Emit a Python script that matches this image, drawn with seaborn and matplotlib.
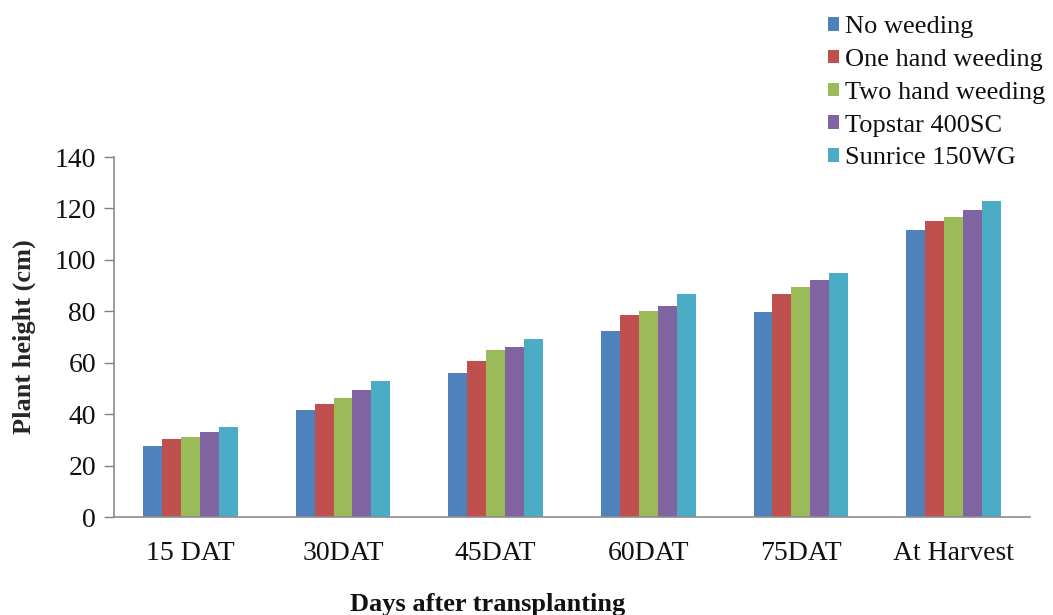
import matplotlib
matplotlib.use("Agg")
import matplotlib.pyplot as plt
import seaborn as sns
import pandas as pd

stages = ["15 DAT", "30DAT", "45DAT", "60DAT", "75DAT", "At Harvest"]
treatments = ["No weeding", "One hand weeding", "Two hand weeding",
              "Topstar 400SC", "Sunrice 150WG"]
no_weeding = [27.5, 41.5, 55.9, 72.3, 79.9, 111.6]
one_hand = [30.5, 44.0, 60.8, 78.7, 86.8, 115.1]
two_hand = [31.0, 46.4, 64.8, 80.0, 89.6, 116.5]
topstar = [33.0, 49.5, 66.3, 82.2, 92.2, 119.5]
sunrice = [34.9, 52.9, 69.3, 86.8, 95.0, 122.8]
colors = ["#4F81BD", "#C0504D", "#9BBB59", "#8064A2", "#4BACC6"]

series = [no_weeding, one_hand, two_hand, topstar, sunrice]
rows = []
for name, vals in zip(treatments, series):
    for st, v in zip(stages, vals):
        rows.append({"Stage": st, "Treatment": name, "Height": v})
df = pd.DataFrame(rows)

sns.set_theme(style="white")
plt.rcParams["font.family"] = ["Liberation Serif", "DejaVu Serif"]
plt.rcParams["text.color"] = "#111111"

fig = plt.figure(figsize=(10.53, 6.15), dpi=100)
ax = fig.add_axes([0.1083, 0.1593, 0.8697, 0.5854])

sns.barplot(data=df, x="Stage", y="Height", hue="Treatment",
            order=stages, hue_order=treatments, palette=colors,
            width=0.62, saturation=1, edgecolor="none", ax=ax)

ax.set_ylim(0, 140)
ax.set_yticks(range(0, 141, 20))
ax.set_xlim(-0.5, len(stages) - 0.5)
ax.tick_params(axis="y", labelsize=20, length=7, width=1, color="#808080",
               direction="out", left=True, pad=6, labelcolor="#111111")
ax.tick_params(axis="x", labelsize=20, length=0, pad=17, labelcolor="#111111")
for s in ["top", "right"]:
    ax.spines[s].set_visible(False)
for s in ["left", "bottom"]:
    ax.spines[s].set_color("#8C8C8C")
    ax.spines[s].set_linewidth(1.2)

ax.set_xlabel("")
ax.set_ylabel("Plant height (cm)", fontsize=19, fontweight="bold", labelpad=13)
fig.text(488 / 1053, 1 - 604 / 615, "Days after transplanting",
         ha="center", va="center", fontsize=19, fontweight="bold")

handles, labels = ax.get_legend_handles_labels()
ax.legend(handles, labels, loc="upper left", bbox_to_anchor=(815 / 1053, 1 - 3 / 615),
          bbox_transform=fig.transFigure, frameon=False, fontsize=19,
          handlelength=0.42, handleheight=0.42, handletextpad=0.23,
          labelspacing=0.41, borderpad=0.0)

fig.savefig("out.png", dpi=100)
